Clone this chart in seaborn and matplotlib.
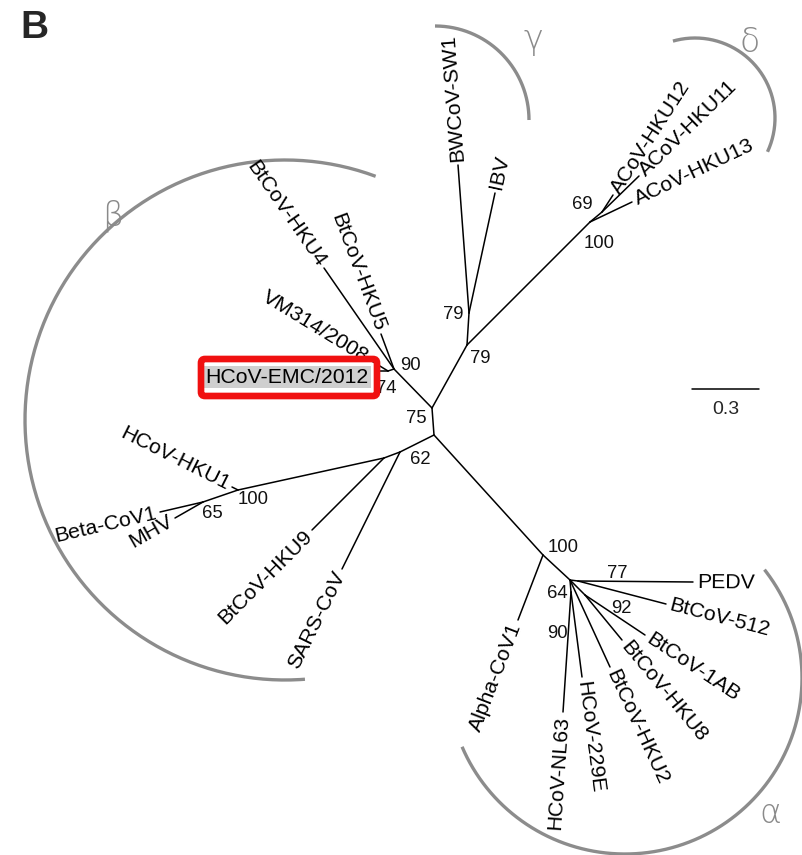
import numpy as np
import pandas as pd
import matplotlib
matplotlib.use("Agg")
import matplotlib.pyplot as plt
import seaborn as sns
from matplotlib.patches import FancyBboxPatch

# ---------------- data: unrooted tree layout (pixel-space node positions) ----------------
internal_names = ["c_up", "c_low", "n90", "n74", "nGD", "nG", "nD", "nD69",
                  "nB62", "nBx", "nB100", "nB65", "nA100", "nA64", "nA77", "nA92", "nA90"]
internal_x = [432, 434, 394, 388, 467, 469, 590, 602, 400, 384, 238, 203, 543, 570, 578, 585, 571]
internal_y = [408, 435, 369, 371, 345, 313, 222, 212, 452, 458, 490, 502, 555, 580, 581, 595, 592]
internal_parent = [None, "c_up", "c_up", "n90", "c_up", "nGD", "nGD", "nD",
                   "c_low", "nB62", "nBx", "nB100", "c_low", "nA100", "nA64", "nA64", "nA64"]

leaf_names = ["BtCoV-HKU4", "BtCoV-HKU5", "VM314/2008", "HCoV-EMC/2012",
              "BWCoV-SW1", "IBV", "ACoV-HKU12", "ACoV-HKU11", "ACoV-HKU13",
              "SARS-CoV", "BtCoV-HKU9", "HCoV-HKU1", "Beta-CoV1", "MHV",
              "Alpha-CoV1", "PEDV", "BtCoV-512", "BtCoV-1AB", "BtCoV-HKU8",
              "BtCoV-HKU2", "HCoV-229E", "HCoV-NL63"]
leaf_x = [324, 381, 370, 379, 458, 495, 613, 639, 632, 342, 312, 232, 160, 175,
          518, 693, 666, 645, 622, 610, 582, 563]
leaf_y = [268, 334, 360, 371, 165, 193, 195, 176, 202, 569, 530, 487, 512, 518,
          620, 582, 604, 635, 640, 667, 677, 712]
leaf_parent = ["n90", "n90", "n74", "n74", "nG", "nG", "nD69", "nD69", "nD",
               "nB62", "nBx", "nB100", "nB65", "nB65", "nA100", "nA77", "nA77",
               "nA92", "nA92", "nA64", "nA90", "nA90"]

boot_values = ["90", "74", "75", "62", "100", "65", "79", "79", "69", "100",
               "100", "77", "64", "92", "90"]
boot_x = [410, 386, 416, 420, 253, 212, 453, 480, 582, 599, 563, 617, 557, 621, 557]
boot_y = [365, 388, 418, 459, 499, 513, 314, 358, 204, 243, 547, 573, 593, 608, 633]

clade_names = ["β", "γ", "δ", "α"]

scale_value = 0.3
scale_px = 67.0   # pixels corresponding to 0.3 substitutions/site

# ---------------- build edge table ----------------
pos = {n: (x, y) for n, x, y in zip(internal_names, internal_x, internal_y)}
pos.update({n: (x, y) for n, x, y in zip(leaf_names, leaf_x, leaf_y)})
parents = dict(zip(internal_names, internal_parent))
parents.update(dict(zip(leaf_names, leaf_parent)))

rows = []
eid = 0
for child, par in parents.items():
    if par is None:
        continue
    for order, n in enumerate((par, child)):
        rows.append({"edge": eid, "order": order, "x": pos[n][0], "y": pos[n][1]})
    eid += 1
edges = pd.DataFrame(rows)

# ---------------- figure ----------------
sns.set_theme(style="white")
plt.rcParams["font.family"] = ["Liberation Sans", "DejaVu Sans"]

fig = plt.figure(figsize=(8.03, 8.55), dpi=100)
ax = fig.add_axes([0, 0, 1, 1])
ax.set_xlim(0, 803)
ax.set_ylim(855, 0)
ax.set_axis_off()

sns.lineplot(data=edges, x="x", y="y", units="edge", estimator=None, sort=False,
             color="black", linewidth=1.1, ax=ax, legend=False)

# leaf labels along branch direction
for name, par in zip(leaf_names, leaf_parent):
    lx, ly = pos[name]
    px, py = pos[par]
    dx, dy = lx - px, ly - py
    ang = np.degrees(np.arctan2(-dy, dx)) % 360
    ux, uy = dx / np.hypot(dx, dy), dy / np.hypot(dx, dy)
    off = 4
    tx, ty = lx + ux * off, ly + uy * off
    if 100 < ang < 275:
        rot, ha = ang - 180, "right"
    else:
        rot, ha = ang, "left"
    kw = {}
    if name == "HCoV-EMC/2012":
        tx, ty = 369, 377
        kw = dict(bbox=dict(boxstyle="square,pad=0.08", fc="#cfcfcf", ec="none"))
    ax.text(tx, ty, name, rotation=rot, ha=ha, va="center", rotation_mode="anchor",
            fontsize=15.3, color="black", zorder=5, **kw)

# red highlight box around HCoV-EMC/2012
ax.add_patch(FancyBboxPatch((201, 359), 176, 37,
                            boxstyle="round,pad=0,rounding_size=4",
                            fc="none", ec="#f01010", lw=4.8, zorder=6))

# bootstrap values
for v, x, y in zip(boot_values, boot_x, boot_y):
    ax.text(x, y, v, ha="center", va="center", fontsize=13.3, color="#111111", zorder=5)

# clade arcs (ellipse params: cx, cy, rx, ry, start angle, end angle)
arc_specs = [(285, 420, 260, 260, 69.6, 274.4),
             (435, 120, 94, 94, 0, 90),
             (695, 118, 80, 80, -25, 106),
             (625, 678, 177, 176, -157, 38)]
for cx, cy, rx, ry, a0, a1 in arc_specs:
    t = np.radians(np.linspace(a0, a1, 200))
    ax.plot(cx + rx * np.cos(t), cy - ry * np.sin(t), color="#8c8c8c", lw=2.4,
            solid_capstyle="butt", zorder=2)

clade_pos = [(113, 216), (533, 40), (750, 42), (770, 813)]
for lab, (x, y) in zip(clade_names, clade_pos):
    ax.text(x, y, lab, ha="center", va="center", fontsize=24, color="#8a8a8a",
            family="DejaVu Sans", fontweight="light")

# scale bar
sx0, sy = 692, 389
ax.plot([sx0, sx0 + scale_px], [sy, sy], color="black", lw=1.1)
ax.text(sx0 + scale_px / 2, sy + 20, f"{scale_value:g}", ha="center", va="center",
        fontsize=14)

# panel letter
ax.text(34, 28, "B", ha="center", va="center", fontsize=28, fontweight="bold",
        family="Liberation Sans")

fig.savefig("out.png", dpi=100)
